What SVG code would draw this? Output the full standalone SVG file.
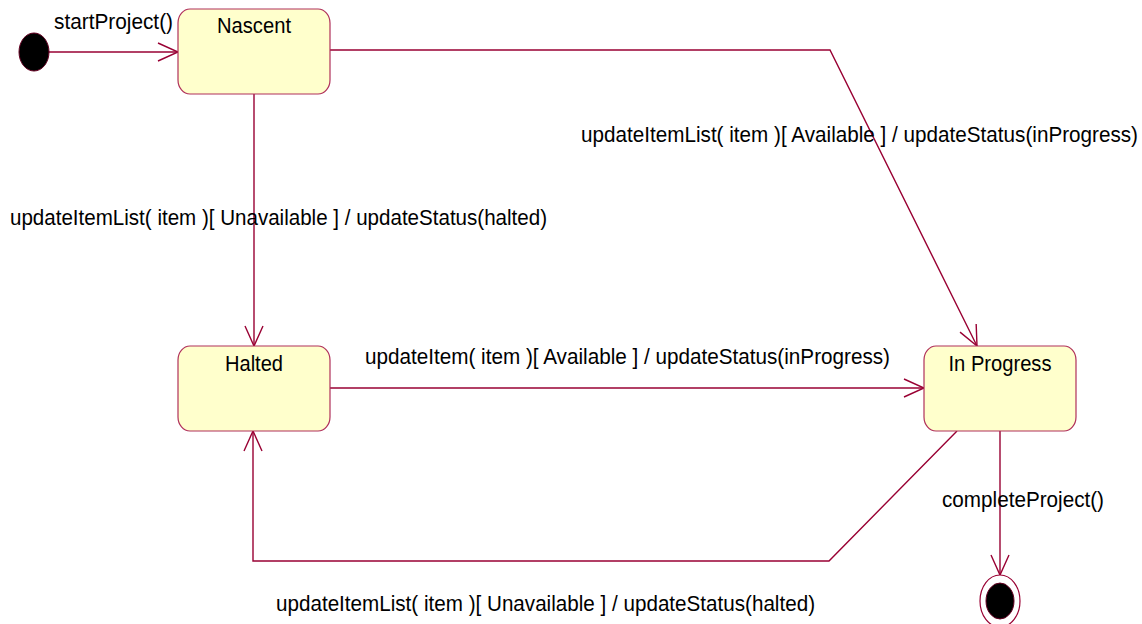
<svg xmlns="http://www.w3.org/2000/svg" width="1142" height="624" viewBox="0 0 1142 624">
  <style>
    .state { fill: #FFFFCC; stroke: #B0305A; stroke-width: 1.2; }
    .edge { fill: none; stroke: #990033; stroke-width: 1.4; }
    .txt { font-family: "Liberation Sans", Arial, sans-serif; font-size: 22px; fill: #000; }
    .mid { text-anchor: middle; }
  </style>
  <defs>
    <marker id="open" markerUnits="userSpaceOnUse" markerWidth="24" markerHeight="24" refX="20" refY="10" orient="auto" overflow="visible">
      <path d="M0,1 L20,10 L0,19" fill="none" stroke="#990033" stroke-width="1.4"/>
    </marker>
  </defs>

  <!-- transitions -->
  <g id="connectors">
    <line class="edge" x1="49" y1="52" x2="178" y2="52" marker-end="url(#open)"/>
    <line class="edge" x1="254" y1="94" x2="254" y2="346" marker-end="url(#open)"/>
    <polyline class="edge" points="330,50 830,50 977,346" marker-end="url(#open)"/>
    <line class="edge" x1="330" y1="388" x2="924" y2="388" marker-end="url(#open)"/>
    <polyline class="edge" points="957,431 829,561 253,561 253,431" marker-end="url(#open)"/>
    <line class="edge" x1="1000" y1="431" x2="1000" y2="575" marker-end="url(#open)"/>

    <text class="txt" x="54" y="29" textLength="119" lengthAdjust="spacingAndGlyphs">startProject()</text>
    <text class="txt" x="10" y="225" textLength="537" lengthAdjust="spacingAndGlyphs">updateItemList( item )[ Unavailable ] / updateStatus(halted)</text>
    <text class="txt" x="581" y="142" textLength="557" lengthAdjust="spacingAndGlyphs">updateItemList( item )[ Available ] / updateStatus(inProgress)</text>
    <text class="txt" x="365" y="364" textLength="525" lengthAdjust="spacingAndGlyphs">updateItem( item )[ Available ] / updateStatus(inProgress)</text>
    <text class="txt" x="942" y="507" textLength="162" lengthAdjust="spacingAndGlyphs">completeProject()</text>
    <text class="txt" x="276" y="611" textLength="539" lengthAdjust="spacingAndGlyphs">updateItemList( item )[ Unavailable ] / updateStatus(halted)</text>
  </g>

  <!-- initial pseudo-state -->
  <g id="initial">
    <ellipse cx="34" cy="52" rx="15" ry="19" fill="#000" stroke="#660022" stroke-width="1"/>
  </g>

  <g id="nascent">
    <rect class="state" x="178" y="9" width="152" height="85" rx="12" ry="14"/>
    <text class="txt mid" x="254" y="33" textLength="74" lengthAdjust="spacingAndGlyphs">Nascent</text>
  </g>

  <g id="halted">
    <rect class="state" x="178" y="346" width="152" height="85" rx="12" ry="14"/>
    <text class="txt mid" x="254" y="371" textLength="58" lengthAdjust="spacingAndGlyphs">Halted</text>
  </g>

  <g id="inProgress">
    <rect class="state" x="924" y="346" width="152" height="85" rx="12" ry="14"/>
    <text class="txt mid" x="1000" y="371" textLength="103" lengthAdjust="spacingAndGlyphs">In Progress</text>
  </g>

  <!-- final state -->
  <g id="final">
    <ellipse cx="1000" cy="601" rx="20" ry="26" fill="#fff" stroke="#990033" stroke-width="1.2"/>
    <ellipse cx="1000" cy="601" rx="14" ry="18" fill="#000" stroke="#660022" stroke-width="1"/>
  </g>
</svg>
